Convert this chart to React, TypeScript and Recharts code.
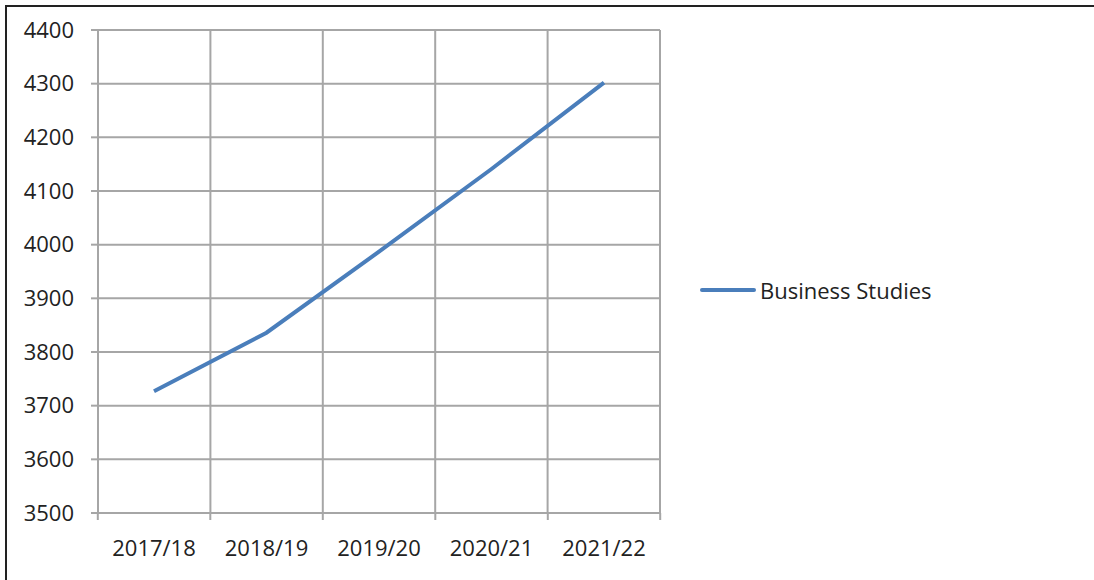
import { LineChart, Line, XAxis, YAxis, CartesianGrid } from 'recharts';

const years = ['2017/18', '2018/19', '2019/20', '2020/21', '2021/22'];
const businessStudies = [3727, 3836, 3987, 4141, 4302];
const yTicks = [3500, 3600, 3700, 3800, 3900, 4000, 4100, 4200, 4300, 4400];

const data = years.map((year, i) => ({ year, value: businessStudies[i] }));

const FONT = '"Open Sans", sans-serif';
const FONT_SIZE = 22;
const GRID = '#a6a6a6';
const BLUE = '#4a7ebb';
const TEXT = '#222';

function XTick(props: any) {
  const { x, y, payload, index, width, visibleTicksCount } = props;
  const band = width / visibleTicksCount;
  const left = x - band / 2;
  return (
    <g>
      <line x1={left} y1={y} x2={left} y2={y + 7} stroke={GRID} strokeWidth={2} />
      {index === visibleTicksCount - 1 && (
        <line x1={left + band} y1={y} x2={left + band} y2={y + 7} stroke={GRID} strokeWidth={2} />
      )}
      <text x={x} y={y + 43} textAnchor="middle" fill={TEXT} fontSize={FONT_SIZE} fontFamily={FONT}>
        {payload.value}
      </text>
    </g>
  );
}

export default function App() {
  return (
    <div style={{ position: 'absolute', left: 0, top: 0, width: 1094, height: 580, background: '#fff' }}>
      <div
        style={{
          position: 'absolute',
          left: 5,
          top: 5,
          right: 0,
          bottom: 0,
          borderTop: '2px solid #222',
          borderLeft: '2px solid #222',
        }}
      />
      <LineChart
        width={1094}
        height={580}
        data={data}
        margin={{ top: 30, right: 434, bottom: 27, left: 18 }}
        style={{ position: 'absolute', left: 0, top: 0 }}
      >
        <CartesianGrid
          stroke={GRID}
          strokeWidth={2}
          verticalCoordinatesGenerator={({ offset }: any) =>
            [0, 1, 2, 3, 4, 5].map((i) => offset.left + (i * offset.width) / years.length)
          }
        />
        <XAxis
          dataKey="year"
          height={40}
          stroke={GRID}
          strokeWidth={2}
          tickLine={false}
          tickSize={0}
          tickMargin={0}
          interval={0}
          padding={{ left: 56, right: 56 }}
          tick={<XTick />}
        />
        <YAxis
          width={80}
          domain={[3500, 4400]}
          ticks={yTicks}
          interval={0}
          stroke={GRID}
          strokeWidth={2}
          tickSize={7}
          tickMargin={17}
          tick={{ fill: TEXT, fontSize: FONT_SIZE, fontFamily: FONT }}
        />
        <Line
          type="linear"
          dataKey="value"
          name="Business Studies"
          stroke={BLUE}
          strokeWidth={4}
          dot={false}
          isAnimationActive={false}
        />
      </LineChart>
      <div
        style={{
          position: 'absolute',
          left: 700,
          top: 275,
          display: 'flex',
          alignItems: 'center',
          fontFamily: FONT,
          fontSize: FONT_SIZE,
          color: TEXT,
          whiteSpace: 'nowrap',
        }}
      >
        <div style={{ width: 56, height: 4, background: BLUE, borderRadius: 2, marginRight: 4 }} />
        <span>Business Studies</span>
      </div>
    </div>
  );
}
